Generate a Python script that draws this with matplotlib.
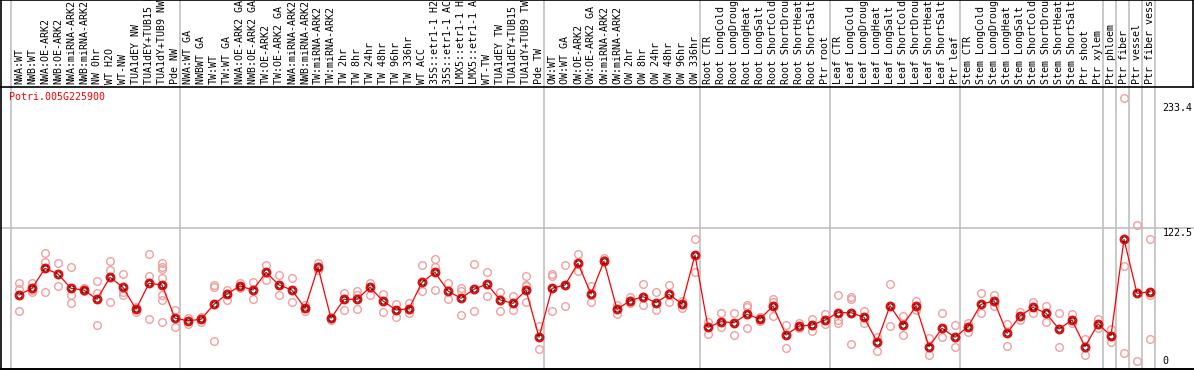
import numpy as np
import matplotlib
matplotlib.use("Agg")
import matplotlib.pyplot as plt
import matplotlib.transforms as mtrans

gene = "Potri.005G225900"
samples = ["NWA:WT", "NWB:WT", "NWA:OE-ARK2", "NWB:OE-ARK2", "NWA:miRNA-ARK2", "NWB:miRNA-ARK2",
           "NW 0hr", "WT H2O", "WT-NW", "TUA1dEY NW", "TUA1dEY+TUB15 NW", "TUA1dY+TUB9 NW", "Pde NW",
           "NWA:WT GA", "NWBWT GA", "TW:WT", "TW:WT GA", "NWA:OE-ARK2 GA", "NWB:OE-ARK2 GA",
           "TW:OE-ARK2", "TW:OE-ARK2 GA", "NWA:miRNA-ARK2", "NWB:miRNA-ARK2", "TW:miRNA-ARK2",
           "TW:miRNA-ARK2", "TW 2hr", "TW 8hr", "TW 24hr", "TW 48hr", "TW 96hr", "TW 336hr", "WT ACC",
           "35S::etr1-1 H2O", "35S::etr1-1 ACC", "LMX5::etr1-1 H2O", "LMX5::etr1-1 ACC", "WT-TW",
           "TUA1dEY TW", "TUA1dEY+TUB15 TW", "TUA1dY+TUB9 TW", "Pde TW",
           "OW:WT", "OW:WT GA", "OW:OE-ARK2", "OW:OE-ARK2 GA", "OW:miRNA-ARK2", "OW:miRNA-ARK2",
           "OW 2hr", "OW 8hr", "OW 24hr", "OW 48hr", "OW 96hr", "OW 336hr",
           "Root CTR", "Root LongCold", "Root LongDrought", "Root LongHeat", "Root LongSalt",
           "Root ShortCold", "Root ShortDrought", "Root ShortHeat", "Root ShortSalt", "Ptr root",
           "Leaf CTR", "Leaf LongCold", "Leaf LongDrought", "Leaf LongHeat", "Leaf LongSalt",
           "Leaf ShortCold", "Leaf ShortDrought", "Leaf ShortHeat", "Leaf ShortSalt", "Ptr leaf",
           "Stem CTR", "Stem LongCold", "Stem LongDrought", "Stem LongHeat", "Stem LongSalt",
           "Stem ShortCold", "Stem ShortDrought", "Stem ShortHeat", "Stem ShortSalt", "Ptr shoot",
           "Ptr xylem", "Ptr phloem", "Ptr fiber", "Ptr vessel", "Ptr fiber vessel"]

means = [63.0, 68.9, 86.7, 81.6, 68.9, 67.4, 59.2, 78.7, 69.8, 50.3, 73.4, 71.9, 42.3,
         40.2, 41.4, 54.7, 63.9, 71.0, 67.4, 83.1, 71.9, 67.4, 51.2, 87.6, 42.3, 59.2, 59.2,
         69.8, 57.7, 49.7, 50.8, 74.3, 83.1, 66.5, 60.1, 68.1, 72.8, 58.6, 55.6, 67.4, 25.5,
         68.9, 71.9, 91.1, 63.9, 92.9, 50.3, 57.9, 61.5, 56.2, 63.6, 55.0, 98.5,
         34.3, 39.3, 38.4, 45.9, 41.7, 53.2, 27.5, 35.5, 36.4, 40.8,
         47.3, 47.3, 43.2, 21.6, 53.5, 36.4, 53.2, 17.1, 33.5, 25.5,
         34.9, 54.7, 57.9, 29.0, 44.4, 52.1, 46.8, 32.8, 40.8, 17.1,
         37.3, 26.9, 112.4, 64.5, 65.9]

reps = [[73.9, 68.3, 49.1], [73.6, 67.4, 65.7], [100.0, 92.5, 65.9], [91.1, 71.0],
        [87.8, 63.0, 55.6], [69.2, 66.5], [75.4, 64.5, 36.1], [92.9, 85.2, 56.8],
        [81.6, 65.9, 62.7], [52.1, 48.2], [99.1, 79.9, 41.4],
        [91.1, 88.1, 85.8, 77.8, 63.0, 58.6, 38.8], [49.7, 34.9],
        [42.3, 37.3], [43.7, 39.3], [71.9, 70.4, 22.2], [67.4, 58.6], [73.4, 69.2],
        [74.5, 59.7], [89.6, 76.3], [80.7, 63.0], [77.8, 56.8], [54.1, 49.1], [91.7, 85.2],
        [40.8, 43.0], [64.5, 49.7], [66.8, 63.0, 50.3], [73.9, 63.0], [63.9, 47.9],
        [55.0, 43.2], [56.2, 47.3], [89.6, 66.5], [94.9, 88.1, 67.4], [73.9, 59.2],
        [68.9, 66.8, 45.0], [90.4, 48.8], [83.1, 62.1], [65.9, 49.1], [62.1, 49.7],
        [79.9, 71.9, 71.0, 57.1], [35.5, 14.8],
        [81.4, 79.9, 49.1], [89.6, 53.2], [99.1, 84.3], [71.3, 56.5], [95.6, 94.1],
        [54.1, 46.1], [61.0, 56.2], [72.8, 54.1], [65.7, 49.7], [71.9, 57.1], [57.9, 51.2],
        [112.7, 83.7],
        [39.3, 28.1], [46.8, 34.9], [46.8, 27.5], [54.1, 52.6, 33.5], [43.7, 40.2],
        [59.4, 57.1, 44.6], [36.4, 15.7], [38.4, 33.5], [42.0, 31.3], [46.1, 37.3],
        [63.0, 40.8, 37.9], [61.0, 59.2, 19.3], [49.1, 37.9], [26.0, 13.3], [72.5, 35.5],
        [44.4, 27.5], [57.7, 50.0], [24.6, 10.0], [46.8, 26.0], [36.1, 17.1],
        [38.4, 30.4], [65.0, 47.3], [63.0, 53.2], [37.3, 17.7], [48.2, 40.8], [57.1, 46.8],
        [53.2, 39.3], [46.8, 16.6], [45.9, 37.9], [23.7, 9.8],
        [42.0, 33.7], [33.1, 21.6], [237.8, 89.0, 11.3], [125.4, 4.4], [112.4, 63.0, 24.0]]

# first sample index of each group
group_starts = [0, 13, 41, 53, 63, 73, 84, 85, 86, 87, 88]
ytick_vals = [233.4, 122.5, 0]
ytick_labels = ["233.4", "122.5", "0"]

W, H = 1194, 370
fig = plt.figure(figsize=(W / 100, H / 100), dpi=100)
ax = fig.add_axes([0, 0, 1, 1])
ax.set_axis_off()
# pixel x = 19 + 13*i ; pixel y (from top) = 366 - 1.127*v
ax.set_xlim(-19 / 13, (W - 19) / 13)
ax.set_ylim(-4 / 1.127, 366 / 1.127)

mono = "DejaVu Sans Mono"
fs = 7.2
blend = mtrans.blended_transform_factory(ax.transData, ax.transAxes)

# frame
ax.plot([0.001, 0.001], [0, 1], color="black", lw=1.2, transform=ax.transAxes, clip_on=False)
ax.plot([0, 1], [0.999, 0.999], color="black", lw=1.2, transform=ax.transAxes, clip_on=False)
ax.plot([0, 1], [0.004, 0.004], color="black", lw=1.4, transform=ax.transAxes, clip_on=False)
ax.plot([0.9995, 0.9995], [1 - 87 / H, 1], color="black", lw=1.2, transform=ax.transAxes, clip_on=False)
ax.plot([0, 1], [1 - 87 / H, 1 - 87 / H], color="black", lw=1.2, transform=ax.transAxes)

# grid
ax.axhline(122.5, color="#c0c0c0", lw=1.2, zorder=1)
for g in group_starts:
    ax.plot([g - 8 / 13, g - 8 / 13], [0, 1], color="#c0c0c0", lw=1.2, transform=blend, zorder=1)

# sample labels
for i, s in enumerate(samples):
    ax.text(i, 1 - 84 / H, s, rotation=90, ha="center", va="bottom", family=mono,
            fontsize=fs, transform=blend, color="black")

ax.text(-0.77, 1 - 92 / H, gene, color="red", family=mono, fontsize=fs, ha="left", va="top",
        transform=blend)
for v, lab in zip(ytick_vals, ytick_labels):
    va = "bottom" if v == 0 else "top"
    ax.text(87.95, v, lab, family=mono, fontsize=fs, ha="left", va=va)

# replicates
for i, r in enumerate(reps):
    ax.plot([i] * len(r), r, "o", mfc="none", mec="#f0a0a0", mew=1.0, ms=5.5, zorder=3)

x = np.arange(len(means))
ax.plot(x, means, color="red", lw=0.9, zorder=4)
ax.plot(x, means, "o", mfc="none", mec="red", mew=1.3, ms=5.8, zorder=5)
ax.plot(x, means, "o", mfc="none", mec="#200000", mew=0.7, ms=3.8, zorder=6)

fig.savefig("out.png", dpi=100)
